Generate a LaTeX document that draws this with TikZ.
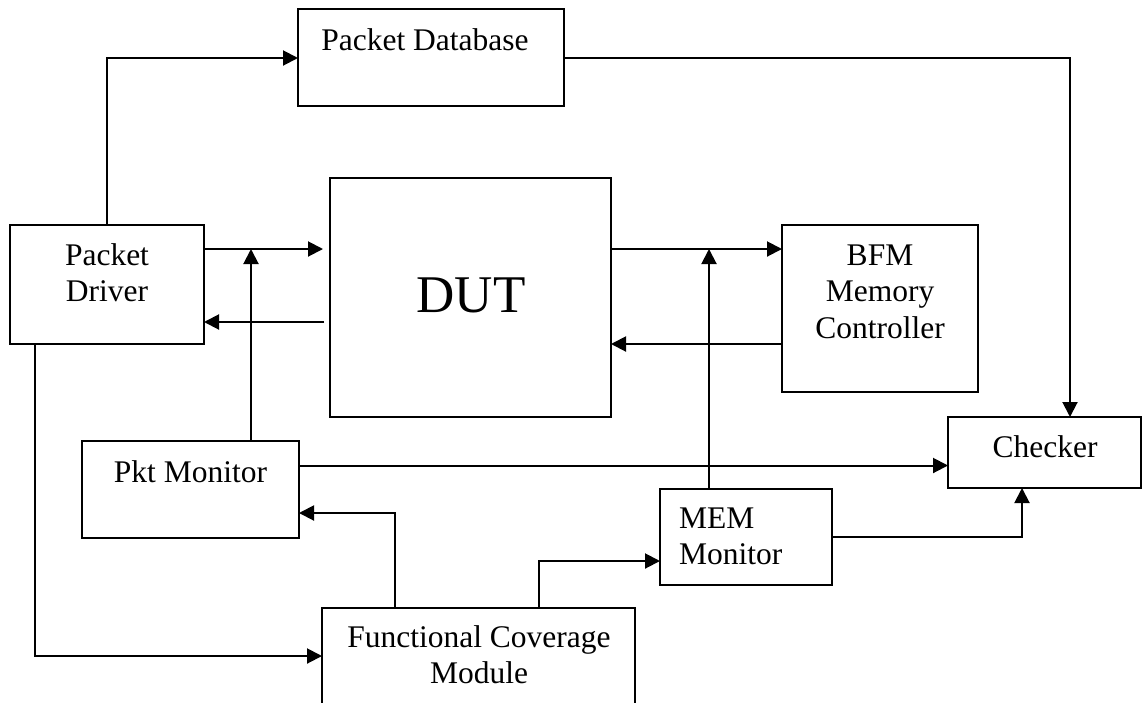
\documentclass[tikz,border=0pt]{standalone}
\usepackage{fontspec}
\setmainfont{Liberation Serif}
\usetikzlibrary{arrows.meta}
\begin{document}
\begin{tikzpicture}[x=1pt,y=-1pt,
  box/.style={draw=black,line width=2pt,inner sep=0pt,outer sep=0pt,fill=none},
  lbl/.style={inner sep=0pt,outer sep=0pt,font=\fontsize{31.5}{36.8}\selectfont},
  arr/.style={line width=2pt,-{Triangle[length=15pt,width=15pt]}},
  ln/.style={line width=2pt}]
\useasboundingbox (0,0) rectangle (1143,702);
\clip (0,0) rectangle (1143,702);
% boxes
\node[box,minimum width=266pt,minimum height=97pt] (db) at (431,57.5) {};
\node[box,minimum width=194pt,minimum height=119pt] (drv) at (107,284.5) {};
\node[box,minimum width=281pt,minimum height=239pt] (dut) at (470.5,297.5) {};
\node[box,minimum width=196pt,minimum height=167pt] (bfm) at (880,308.5) {};
\node[box,minimum width=193pt,minimum height=71pt] (chk) at (1044.5,452.5) {};
\node[box,minimum width=217pt,minimum height=97pt] (pkt) at (190.5,489.5) {};
\node[box,minimum width=172pt,minimum height=96pt] (mem) at (746,537) {};
\node[box,minimum width=313pt,minimum height=120pt] (fcm) at (478.5,668) {};
% labels
\node[lbl,anchor=base] (dbT) at (425,50) {Packet Database};
\node[lbl,anchor=base] (drvT) at (107,265) {\begin{tabular}[t]{@{}c@{}}Packet\\Driver\end{tabular}};
\node[inner sep=0pt,anchor=base,font=\fontsize{53}{60}\selectfont] (dutT) at (471,312) {DUT};
\node[lbl,anchor=base] (bfmT) at (880,265) {\begin{tabular}[t]{@{}c@{}}BFM\\Memory\\Controller\end{tabular}};
\node[lbl,anchor=base] (chkT) at (1045,457) {Checker};
\node[lbl,anchor=base] (pktT) at (190.5,482) {Pkt Monitor};
\node[lbl,anchor=base west] (memT) at (679,528) {\begin{tabular}[t]{@{}l@{}}MEM\\Monitor\end{tabular}};
\node[lbl,anchor=base] (fcmT) at (479,647) {\begin{tabular}[t]{@{}c@{}}Functional Coverage\\Module\end{tabular}};
% bend / row coordinates
\coordinate (c1) at (107,58);
\coordinate (c2) at (1070,58);
\coordinate (r1) at (0,249);
\coordinate (r2) at (0,322);
\coordinate (r3) at (0,344);
\coordinate (r4) at (0,465.5);
\coordinate (j1) at (251,249);
\coordinate (j2) at (709,249);
\coordinate (c3) at (1022,537);
\coordinate (c4) at (395,513);
\coordinate (c5) at (539,561);
\coordinate (c6) at (34.5,656);
% connectors
\draw[arr] (drv.north -| c1) -- (c1) -- (c1 -| db.west);
\draw[arr] (c2 -| db.east) -- (c2) -- (chk.north -| c2);
\draw[arr,shorten >=7pt] (drv.east |- r1) -- (dut.west |- r1);
\draw[arr,shorten <=6pt] (dut.west |- r2) -- (drv.east |- r2);
\draw[arr] (pkt.north -| j1) -- (j1);
\draw[arr] (dut.east |- r1) -- (bfm.west |- r1);
\draw[arr] (bfm.west |- r3) -- (dut.east |- r3);
\draw[arr] (mem.north -| j2) -- (j2);
\draw[arr] (pkt.east |- r4) -- (chk.west |- r4);
\draw[arr] (mem.east |- c3) -- (c3) -- (chk.south -| c3);
\draw[arr] (fcm.north -| c4) -- (c4) -- (pkt.east |- c4);
\draw[arr] (fcm.north -| c5) -- (c5) -- (mem.west |- c5);
\draw[arr] (drv.south -| c6) -- (c6) -- (fcm.west |- c6);
\end{tikzpicture}
\end{document}
